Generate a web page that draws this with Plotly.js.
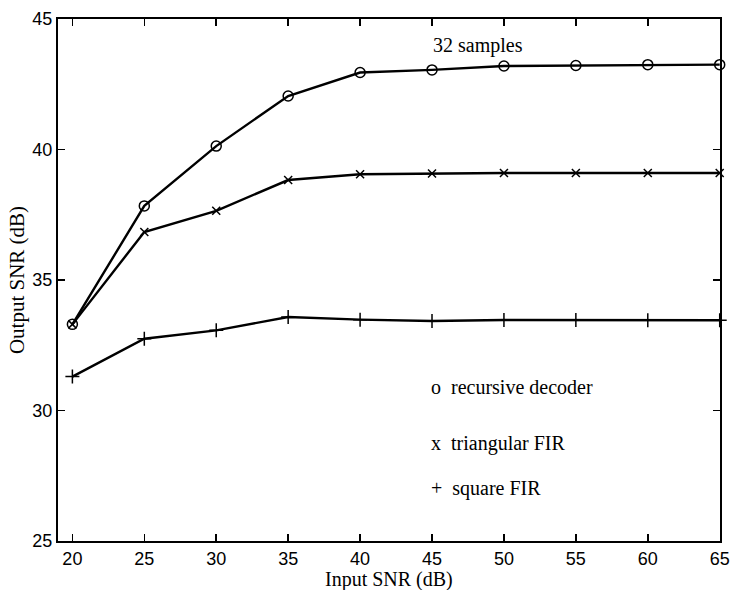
<!DOCTYPE html>
<html><head><meta charset="utf-8">
<script src="https://cdn.plot.ly/plotly-3.0.1.min.js"></script>
<style>body{margin:0;background:#fff}#c{width:732px;height:590px}</style>
</head><body><div id="c"></div>
<script>
const inputSNR = [20, 25, 30, 35, 40, 45, 50, 55, 60, 65];
const recursive = [33.3, 37.84, 40.13, 42.05, 42.95, 43.05, 43.2, 43.22, 43.25, 43.25];
const triangular = [33.3, 36.84, 37.65, 38.83, 39.05, 39.08, 39.1, 39.1, 39.1, 39.1];
const square = [31.3, 32.75, 33.07, 33.58, 33.48, 33.43, 33.47, 33.47, 33.46, 33.46];
const xTicks = [20, 25, 30, 35, 40, 45, 50, 55, 60, 65];
const yTicks = [25, 30, 35, 40, 45];

const lineStyle = {color: '#000', width: 2.4};
const traces = [
  {x: inputSNR, y: recursive, mode: 'lines+markers', line: lineStyle, cliponaxis: false,
   marker: {symbol: 'circle-open', size: 10, color: '#000', line: {width: 1.5, color: '#000'}}},
  {x: inputSNR, y: triangular, mode: 'lines+markers', line: lineStyle, cliponaxis: false,
   marker: {symbol: 'x-thin-open', size: 8, color: '#000', line: {width: 1.5, color: '#000'}}},
  {x: inputSNR, y: square, mode: 'lines+markers', line: lineStyle, cliponaxis: false,
   marker: {symbol: 'cross-thin-open', size: 10, color: '#000', line: {width: 1.5, color: '#000'}}}
];

const serif = '"Liberation Serif", "DejaVu Serif", serif';
const sans = '"Liberation Sans", Arial, sans-serif';
const ann = (x, y, t) => ({x: x, y: y, xref: 'x', yref: 'y', text: t, showarrow: false,
  xanchor: 'left', yanchor: 'middle', font: {family: serif, size: 20, color: '#000'}});

const layout = {
  width: 732, height: 590,
  margin: {l: 58, r: 12, t: 19, b: 49},
  paper_bgcolor: '#fff', plot_bgcolor: '#fff',
  showlegend: false,
  xaxis: {range: [19, 65.02], tickvals: xTicks, ticktext: xTicks.map(String),
    ticks: 'inside', ticklen: 7, tickwidth: 1.5, tickcolor: '#000', ticklabeloverflow: 'allow',
    showline: true, linecolor: '#000', linewidth: 2, mirror: 'ticks', showgrid: false, zeroline: false,
    tickfont: {family: sans, size: 18, color: '#000'}},
  yaxis: {range: [25, 45], tickvals: yTicks, ticktext: yTicks.map(String),
    ticks: 'inside', ticklen: 7, tickwidth: 1.5, tickcolor: '#000',
    showline: true, linecolor: '#000', linewidth: 2, mirror: 'ticks', showgrid: false, zeroline: false,
    tickfont: {family: sans, size: 18, color: '#000'},
    title: {text: 'Output SNR (dB)', standoff: 2, font: {family: serif, size: 21, color: '#000'}}},
  annotations: [
    ann(44.9, 44.0, '32 samples'),
    ann(44.8, 30.9, 'o  recursive decoder'),
    ann(44.8, 28.75, 'x  triangular FIR'),
    ann(44.8, 27.0, '+  square FIR'),
    {x: 0.5, y: 0, xref: 'paper', yref: 'paper', xanchor: 'center', yanchor: 'middle',
     yshift: -38, showarrow: false, text: 'Input SNR (dB)',
     font: {family: serif, size: 20, color: '#000'}}
  ]
};
Plotly.newPlot('c', traces, layout, {displayModeBar: false, staticPlot: true});
</script></body></html>
